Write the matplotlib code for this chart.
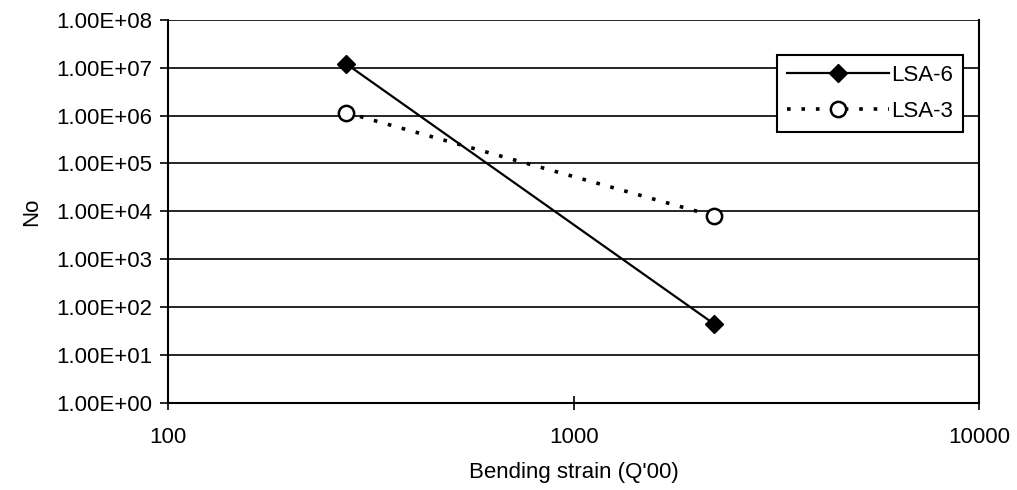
import matplotlib
matplotlib.use("Agg")
import matplotlib.pyplot as plt
from matplotlib.ticker import FixedLocator, FixedFormatter, NullLocator

plt.rcParams['font.family'] = ['Liberation Sans', 'DejaVu Sans']

strain = [275, 2220]
lsa6 = [1.2e7, 45]
lsa3 = [1.15e6, 8000]
ytick_vals = [1e0, 1e1, 1e2, 1e3, 1e4, 1e5, 1e6, 1e7, 1e8]
ytick_labels = ["1.00E+00", "1.00E+01", "1.00E+02", "1.00E+03", "1.00E+04",
                "1.00E+05", "1.00E+06", "1.00E+07", "1.00E+08"]
xtick_vals = [100, 1000, 10000]
xtick_labels = ["100", "1000", "10000"]

FS = 16

fig = plt.figure(figsize=(10.17, 4.9), dpi=100)
ax = fig.add_axes([0.165, 0.177, 0.798, 0.783])
ax.set_xscale('log')
ax.set_yscale('log')
ax.set_xlim(100, 10000)
ax.set_ylim(1, 1e8)

ax.plot(strain, lsa6, color='black', lw=1.6, marker='D', markersize=9,
        markerfacecolor='black', markeredgecolor='black', label='LSA-6', zorder=3)
ax.plot(strain, lsa3, color='black', lw=2.6, linestyle=(0, (1.0, 3.0)),
        marker='o', markersize=11, markerfacecolor='white',
        markeredgecolor='black', markeredgewidth=1.8, label='LSA-3', zorder=3)

ax.yaxis.set_major_locator(FixedLocator(ytick_vals))
ax.yaxis.set_major_formatter(FixedFormatter(ytick_labels))
ax.yaxis.set_minor_locator(NullLocator())
ax.xaxis.set_major_locator(FixedLocator(xtick_vals))
ax.xaxis.set_major_formatter(FixedFormatter(xtick_labels))
ax.xaxis.set_minor_locator(NullLocator())

ax.grid(True, axis='y', color='black', lw=1.2)
ax.set_axisbelow(True)
ax.spines['top'].set_visible(False)
for side in ['left', 'bottom', 'right']:
    ax.spines[side].set_linewidth(1.5)
    ax.spines[side].set_color('black')

ax.tick_params(axis='y', direction='out', length=6, width=1.2, labelsize=FS, pad=5)
ax.tick_params(axis='x', direction='inout', length=10, width=1.2, labelsize=FS, pad=12)

ax.set_xlabel("Bending strain (Q'00)", fontsize=FS, labelpad=10)
ax.set_ylabel("No", fontsize=FS, labelpad=10)

leg = ax.legend(loc='upper right', bbox_to_anchor=(0.980, 0.909), fontsize=FS,
                frameon=True, fancybox=False, edgecolor='black', framealpha=1,
                handlelength=4.6, borderpad=0.45, labelspacing=0.7, handletextpad=0.1,
                borderaxespad=0.0)
leg.get_frame().set_linewidth(1.5)

fig.savefig("out.png", dpi=100)
